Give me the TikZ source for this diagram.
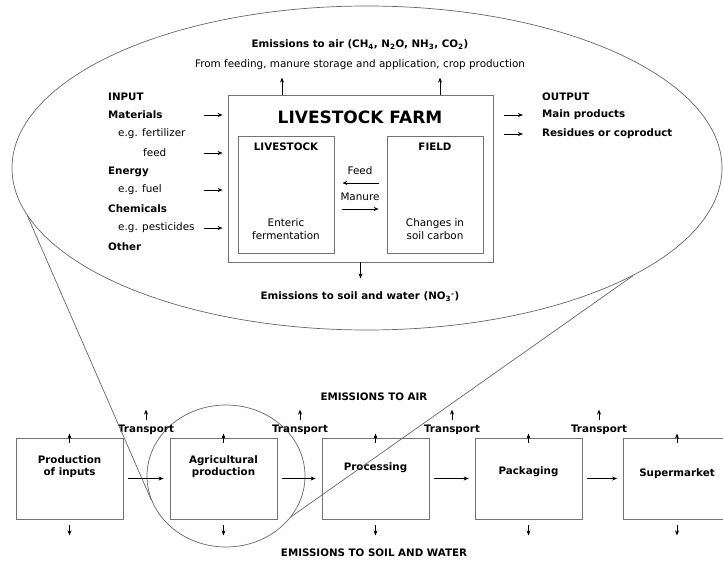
\documentclass[tikz,border=0pt]{standalone}
\usepackage{fontspec}
\setmainfont{DejaVu Sans}
\usetikzlibrary{shapes.geometric,arrows.meta,positioning,calc}

\tikzset{
  >={Stealth[length=5pt,width=4pt]},
  arr/.style={->, line width=0.8pt},
  boxline/.style={draw=black!55, line width=0.8pt},
  farmbox/.style={boxline, rectangle, inner sep=0pt},
  stage/.style={boxline, rectangle, inner sep=0pt, minimum width=107pt, minimum height=81pt},
  bold/.style={font=\fontsize{10.3}{12.3}\selectfont\bfseries},
  stagetext/.style={align=center, bold},
  zoom/.style={draw=black!60, line width=0.7pt, ellipse, inner sep=0pt},
  zoomline/.style={draw=black!60, line width=0.7pt},
  lbl/.style={anchor=west, inner sep=0pt},
  blbl/.style={lbl, bold},
}

\begin{document}
\begin{tikzpicture}[x=1pt,y=-1pt,font=\fontsize{10.4}{12.5}\selectfont]
\useasboundingbox (0,0) rectangle (723,561);

% zoom ellipses
\node[zoom, minimum width=710pt, minimum height=324pt] (big) at (367,168) {};
\node[zoom, minimum width=158pt, minimum height=142pt] (small) at (226,476) {};

% livestock farm
\node[farmbox, minimum width=265pt, minimum height=167pt] (farm) at (360.5,178.5) {};
\node[font=\fontsize{17}{20}\selectfont\bfseries] (title) at (360,117) {LIVESTOCK FARM};
\node[farmbox, minimum width=96pt, minimum height=117pt] (ls) at (286,194.5) {};
\node[farmbox, minimum width=96pt, minimum height=117pt] (fd) at (435,194.5) {};
\node[bold] (lstitle) at (286,147) {LIVESTOCK};
\node[bold] (fdtitle) at (435,147) {FIELD};
\node[align=center, inner sep=0pt] (enteric) at (286,229) {Enteric\\fermentation};
\node[align=center, inner sep=0pt] (soilc) at (435,229) {Changes in\\soil carbon};
\node (feed) at (360,171) {Feed};
\node (manure) at (360,197) {Manure};
\draw[arr, shorten <=8pt, shorten >=8pt] (fd.west |- 0,183) -- (ls.east |- 0,183);
\draw[arr, shorten <=8pt, shorten >=8pt] (ls.east |- 0,209) -- (fd.west |- 0,209);

% emissions of the farm
\node[bold] (emair) at (360,45) {Emissions to air (CH\textsubscript{4}, N\textsubscript{2}O, NH\textsubscript{3}, CO\textsubscript{2})};
\node (from) at (360,65) {From feeding, manure storage and application, crop production};
\draw[arr] (farm.north -| 282,0) -- ++(0,-17);
\draw[arr] (farm.north -| 440,0) -- ++(0,-17);
\draw[arr] (farm.south) -- ++(0,16);
\node[bold] (emsoil) at (360,297) {Emissions to soil and water (NO\textsubscript{3}\textsuperscript{-})};

% inputs
\node[blbl] (input) at (108,97) {INPUT};
\node[blbl] (mat) at (108,115) {Materials};
\node[lbl] (fert) at (118,134) {e.g. fertilizer};
\node[lbl] (feedin) at (143,153) {feed};
\node[blbl] (energy) at (108,172) {Energy};
\node[lbl] (fuel) at (118,190) {e.g. fuel};
\node[blbl] (chem) at (108,209) {Chemicals};
\node[lbl] (pest) at (118,228) {e.g. pesticides};
\node[blbl] (other) at (108,247) {Other};
\foreach \y in {115,153,190,228}
  \draw[arr, shorten >=5pt] (204,\y) -- (farm.west |- 0,\y);

% outputs
\node[blbl] (output) at (542,97) {OUTPUT};
\node[blbl] (mainp) at (542,115) {Main products};
\node[blbl] (resid) at (542,134) {Residues or coproduct};
\foreach \y in {115,134}
  \draw[arr, shorten <=11pt] (farm.east |- 0,\y) -- (523,\y);

% food chain
\foreach \n/\x/\t/\dy in {b1/69.5/{Production\\of inputs}/29, b2/223.5/{Agricultural\\production}/29,
    b3/375.5/Processing/30, b4/528.5/Packaging/34, b5/677/Supermarket/36} {
  \node[stage] (\n) at (\x,478.5) {};
  \node[stagetext] (\n t) at ($(\n.north)+(0,\dy)$) {\t};
  \draw[arr] ([yshift=-5pt]\n.north) -- ++(0,-9);
  \draw[arr] ([yshift=-6pt]\n.south) -- ++(0,10);
}
\foreach \a/\b in {b1/b2,b2/b3,b3/b4,b4/b5}
  \draw[arr, line width=0.9pt, shorten <=5pt, shorten >=6pt] (\a) -- (\b);

\foreach \x in {146,300,452,599} {
  \node[bold] (tr\x) at (\x,430) {Transport};
  \draw[arr] ([yshift=2pt]tr\x.north) -- ++(0,-10);
}
\node[bold] (airlbl) at (374,397) {EMISSIONS TO AIR};
\node[bold] (soillbl) at (374,553) {EMISSIONS TO SOIL AND WATER};

\draw[zoomline] (big.188) -- (small.198);
\draw[zoomline] (big.338) -- (small.328);
\end{tikzpicture}
\end{document}
